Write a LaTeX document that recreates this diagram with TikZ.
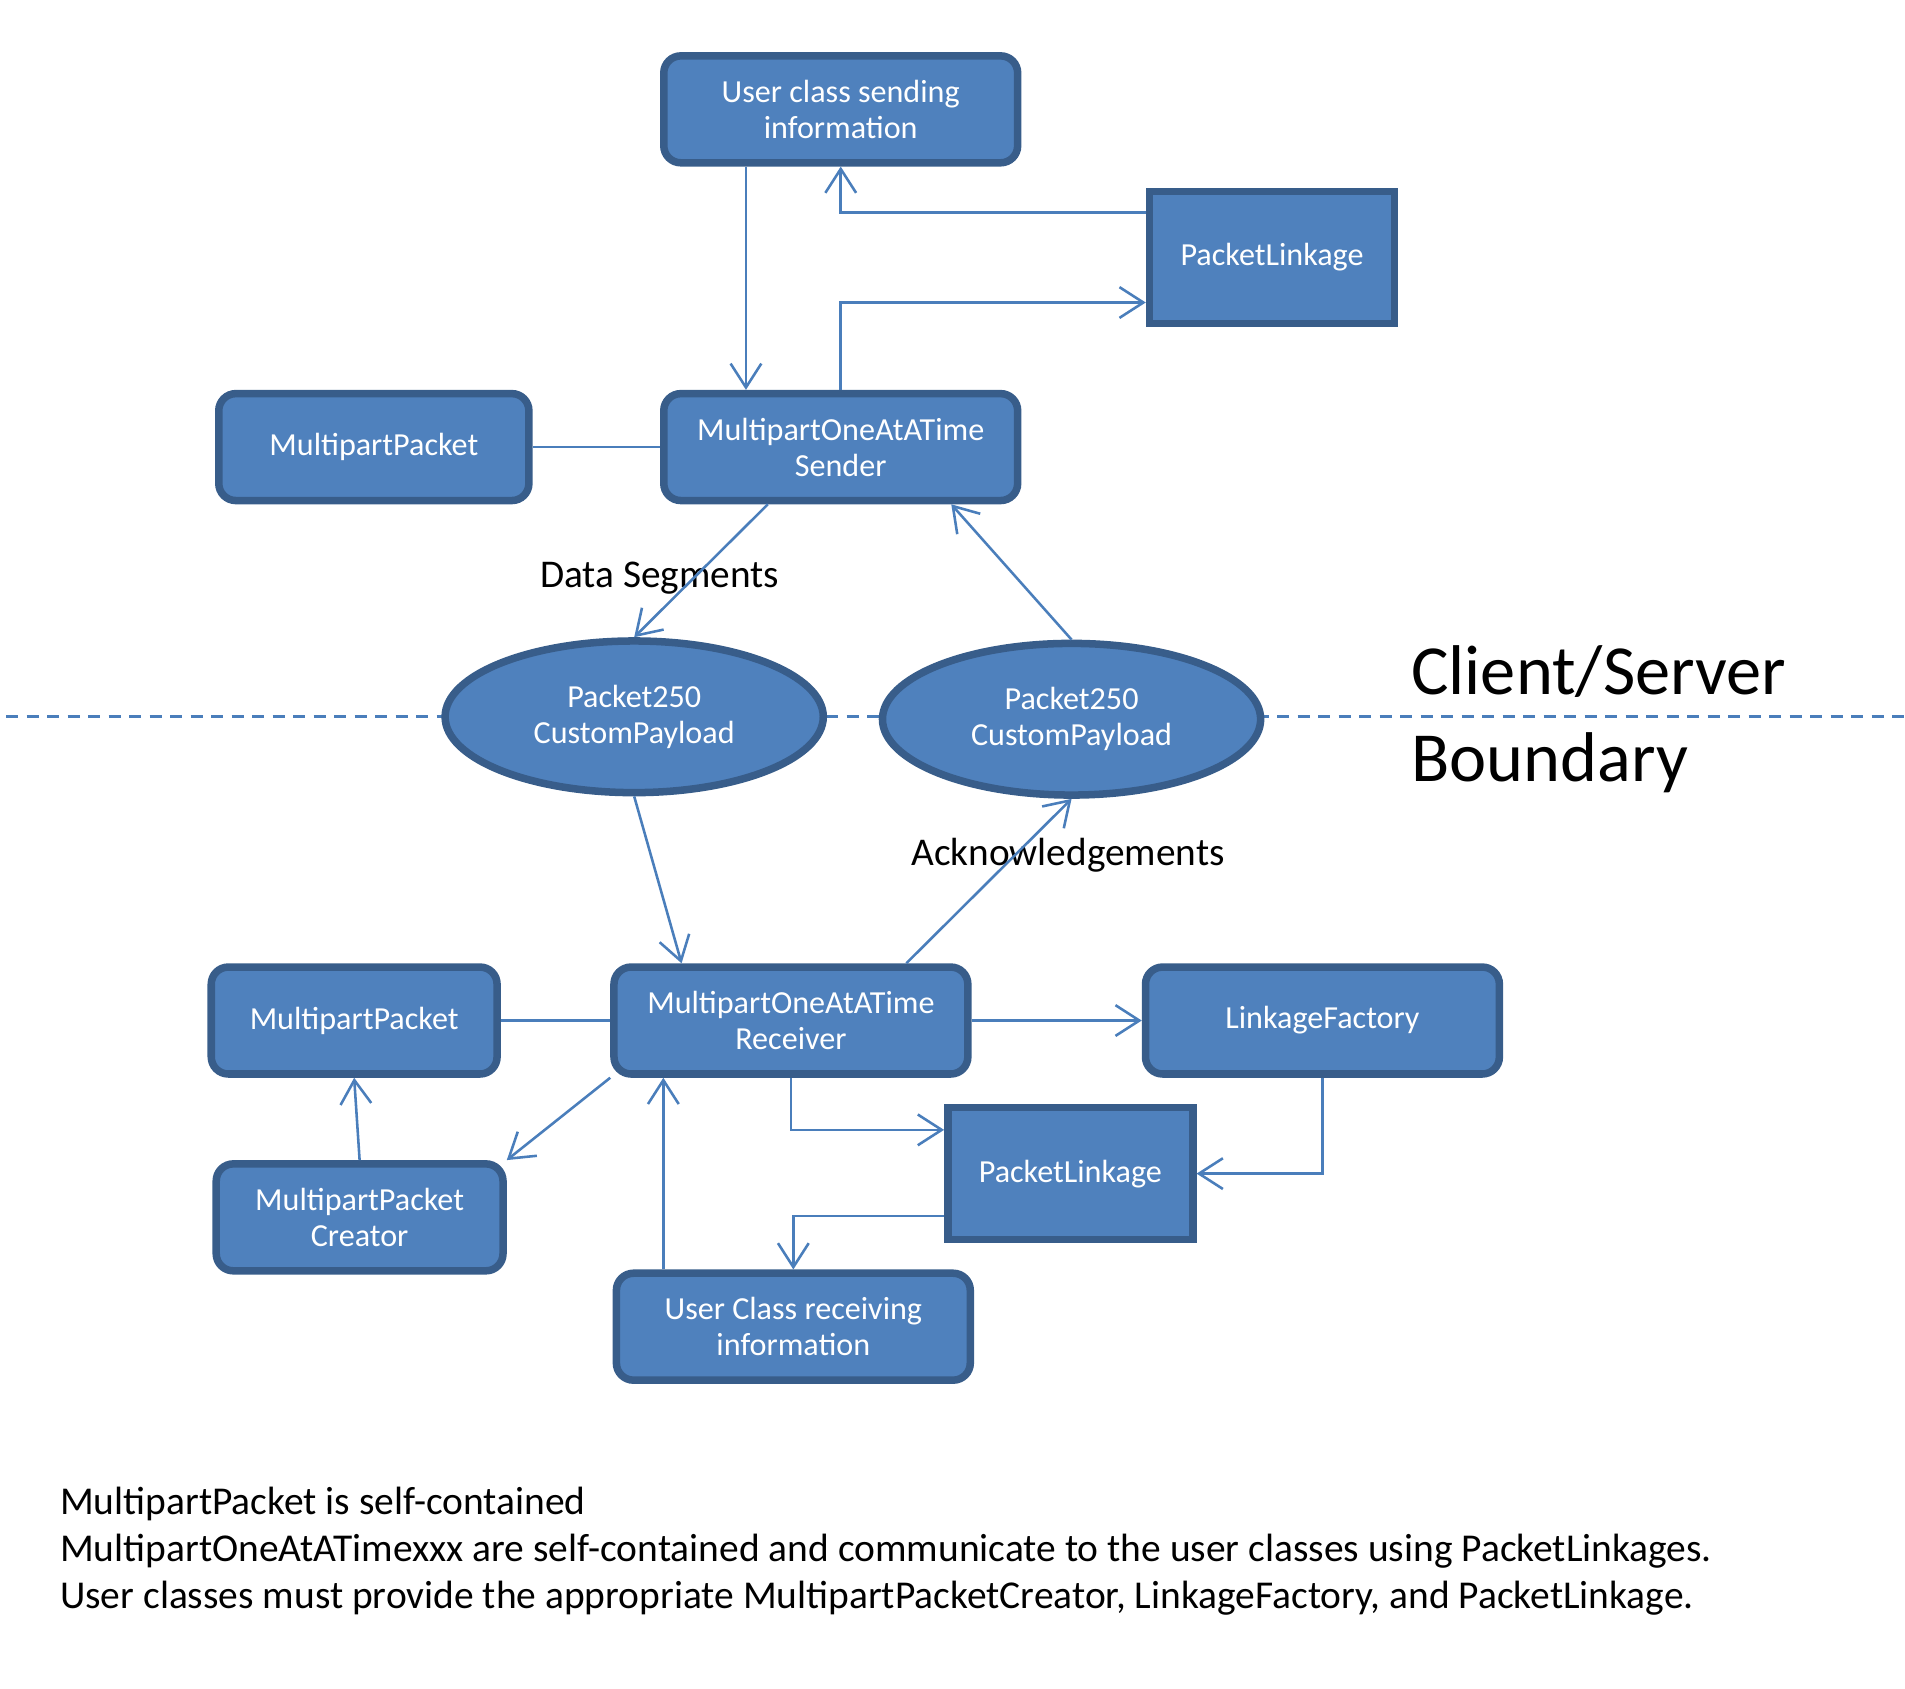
\documentclass[tikz,border=0pt]{standalone}
\usepackage{fontspec}
\setmainfont{Carlito}
\usepackage{tikz}
\usetikzlibrary{positioning}
\usetikzlibrary{calc}
\usetikzlibrary{arrows.meta}
\usetikzlibrary{shapes}

\definecolor{boxfill}{HTML}{4F81BD}
\definecolor{boxdraw}{HTML}{385D8A}
\definecolor{linecol}{HTML}{4A7EBB}

\begin{document}
\begin{tikzpicture}[
    x=0.0125cm, y=-0.0125cm,    % one unit is one pixel of the sketch
    node distance=1cm and 1cm,  % Global setup of box spacing
    ]
% -------------------------------------------------
\tikzset{
  base/.style={draw=boxdraw, line width=2.2pt, fill=boxfill, text=white, align=center, font=\fontsize{9.4}{10.6}\selectfont, inner sep=2pt},
  cls/.style={base, rectangle, rounded corners=5pt, minimum width=3.64cm, minimum height=1.1cm},
  link/.style={base, rectangle, minimum width=2.52cm, minimum height=1.36cm},
  pkt/.style={base, ellipse, minimum width=3.89cm, minimum height=1.56cm},
  line/.style={draw=linecol, line width=0.75pt, -{Straight Barb[length=7pt,width=9pt]}},
  note/.style={align=left, font=\fontsize{11.5}{13.8}\selectfont, inner sep=0pt}
}
% -------------------------------------------------
\useasboundingbox (0,0) rectangle (1568,1390);

% Sender side
\node [cls] (usend) at (692,90) {User class sending\\information};
\node [link] (plink1) at (1047,212) {PacketLinkage};
\node [cls] (sender) at (692,368) {MultipartOneAtATime\\Sender};
\node [cls, minimum width=3.19cm, left=1.31cm of sender] (mpp1) {MultipartPacket};

% Boundary
\coordinate (bl) at (5,590);
\coordinate (br) at (1568,590);
\draw [linecol, line width=0.9pt, dash pattern=on 3.5pt off 2.5pt] (bl) -- (br);

\node [pkt] (pkt1) at (522,590) {Packet250\\CustomPayload};
\node [pkt] (pkt2) at (882,592) {Packet250\\CustomPayload};
\node [note, font=\fontsize{20.6}{25.5}\selectfont, anchor=west] (bnd) at (1161,592) {Client/Server\\Boundary};

% Receiver side
\node [cls] (recv) at (651,840) {MultipartOneAtATime\\Receiver};
\node [cls, minimum width=2.94cm, left=1.125cm of recv] (mpp2) {MultipartPacket};
\node [cls, right=1.75cm of recv] (lfac) {LinkageFactory};
\node [cls, minimum width=2.95cm] (mppc) at (296,1002) {MultipartPacket\\Creator};
\node [link] (plink2) at (881,966) {PacketLinkage};
\node [cls] (urecv) at (653,1092) {User Class receiving\\information};

% Labels
\node [note] (dseg) at (543,476) {Data Segments};
\node [note] (ack) at (879,704) {Acknowledgements};

\node [note, font=\fontsize{11.55}{13.8}\selectfont, anchor=west] (remark) at (49,1277) {MultipartPacket is self-contained\\
MultipartOneAtATimexxx are self-contained and communicate to the user classes using PacketLinkages.\\
User classes must provide the appropriate MultipartPacketCreator, LinkageFactory, and PacketLinkage.};

% -------------------------------------------------
% Connectors
\path [line] ($(usend.south)+(-78,0)$) -- ($(sender.north)+(-78,0)$);
\path [line] ($(plink1.west)+(0,-37)$) -| (usend.south);
\path [line] (sender.north) |- ($(plink1.west)+(0,37)$);
\path [line, -] (mpp1.east) -- (sender.west);
\path [line] ($(sender.south)+(-60,0)$) -- (pkt1.north);
\path [line] (pkt2.north) -- ($(sender.south)+(91,0)$);

\path [line] (pkt1.south) -- ($(recv.north)+(-90,0)$);
\path [line] ($(recv.north)+(95,0)$) -- (pkt2.south);
\path [line, -] (mpp2.east) -- (recv.west);
\path [line] (recv.east) -- (lfac.west);
\path [line] (recv.south west) -- (mppc.north east);
\path [line] (mppc.north) -- (mpp2.south);
\path [line] ($(urecv.north)+(-107,0)$) -- ($(recv.south)+(-105,0)$);
\path [line] (recv.south) |- ($(plink2.west)+(0,-36)$);
\path [line] (lfac.south) |- (plink2.east);
\path [line] ($(plink2.west)+(0,35)$) -| (urecv.north);

\end{tikzpicture}
\end{document}
